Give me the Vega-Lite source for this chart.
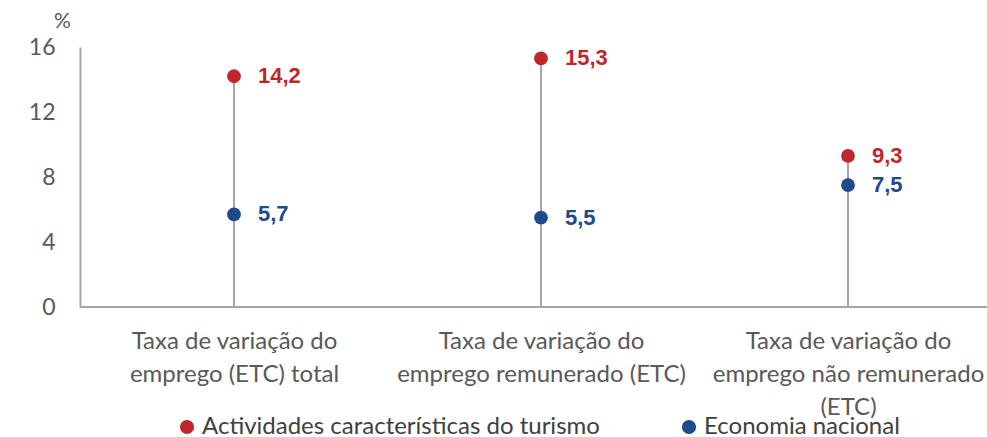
{
"$schema": "https://vega.github.io/schema/vega-lite/v6.json",
"width": 907,
"height": 260,
"autosize": {"type": "none"},
"padding": {"left": 80, "top": 47, "right": 0, "bottom": 130},
"config": {
  "view": {"stroke": null},
  "font": "Lato",
  "locale": {"number": {"decimal": ",", "thousands": ".", "grouping": [3], "currency": ["", " €"]}}
},
"data": {"values": [
  {"categoria": "Taxa de variação do|emprego (ETC) total", "serie": "Actividades características do turismo", "valor": 14.2},
  {"categoria": "Taxa de variação do|emprego remunerado (ETC)", "serie": "Actividades características do turismo", "valor": 15.3},
  {"categoria": "Taxa de variação do|emprego não remunerado|(ETC)", "serie": "Actividades características do turismo", "valor": 9.3},
  {"categoria": "Taxa de variação do|emprego (ETC) total", "serie": "Economia nacional", "valor": 5.7},
  {"categoria": "Taxa de variação do|emprego remunerado (ETC)", "serie": "Economia nacional", "valor": 5.5},
  {"categoria": "Taxa de variação do|emprego não remunerado|(ETC)", "serie": "Economia nacional", "valor": 7.5}
]},
"layer": [
  {
    "mark": {"type": "rule", "color": "#A6A6A6", "strokeWidth": 2},
    "encoding": {"y": {"datum": 0, "type": "quantitative"}}
  },
  {
    "mark": {"type": "rule", "color": "#A6A6A6", "strokeWidth": 2},
    "encoding": {
      "x": {"field": "categoria", "type": "nominal", "sort": null,
        "scale": {"type": "point", "range": [154, 768], "padding": 0},
        "axis": {"title": null, "domain": false, "ticks": false, "labelAngle": 0, "labelFontSize": 24,
          "labelColor": "#595959", "labelPadding": 22, "labelBaseline": "top", "labelLineHeight": 33,
          "labelLimit": 600, "labelExpr": "split(datum.label, '|')"}},
      "y": {"aggregate": "max", "field": "valor", "type": "quantitative"},
      "y2": {"datum": 0}
    }
  },
  {
    "mark": {"type": "circle", "size": 190, "opacity": 1},
    "encoding": {
      "x": {"field": "categoria", "type": "nominal", "sort": null},
      "y": {"field": "valor", "type": "quantitative"},
      "color": {"field": "serie", "type": "nominal",
        "scale": {"domain": ["Actividades características do turismo", "Economia nacional"], "range": ["#C0272D", "#1F4A8C"]},
        "legend": {"orient": "none", "legendX": 95, "legendY": 368, "direction": "horizontal", "title": null,
          "labelFontSize": 24, "labelColor": "#404040", "symbolType": "circle", "symbolSize": 200,
          "symbolStrokeWidth": 0, "symbolOpacity": 1, "columnPadding": 77, "labelLimit": 600, "labelOffset": 3}}
    }
  },
  {
    "mark": {"type": "text", "align": "left", "baseline": "middle", "dx": 24, "font": "Liberation Sans", "fontWeight": "bold", "fontSize": 22},
    "encoding": {
      "x": {"field": "categoria", "type": "nominal", "sort": null},
      "y": {"field": "valor", "type": "quantitative"},
      "text": {"field": "valor", "type": "quantitative", "format": ".1f"},
      "color": {"field": "serie", "type": "nominal"}
    }
  }
],
"encoding": {
  "y": {"type": "quantitative",
    "scale": {"domain": [0, 16], "nice": false},
    "axis": {"values": [0, 4, 8, 12, 16], "grid": false, "ticks": false, "domain": true, "domainColor": "#A6A6A6",
      "domainWidth": 2, "labelFontSize": 23, "labelColor": "#595959", "labelPadding": 25,
      "title": "%", "titleAngle": 0, "titleX": -18, "titleY": -16, "titleAlign": "center", "titleBaseline": "bottom",
      "titleFontSize": 21, "titleFontWeight": "normal", "titleColor": "#595959"}}
}
}
